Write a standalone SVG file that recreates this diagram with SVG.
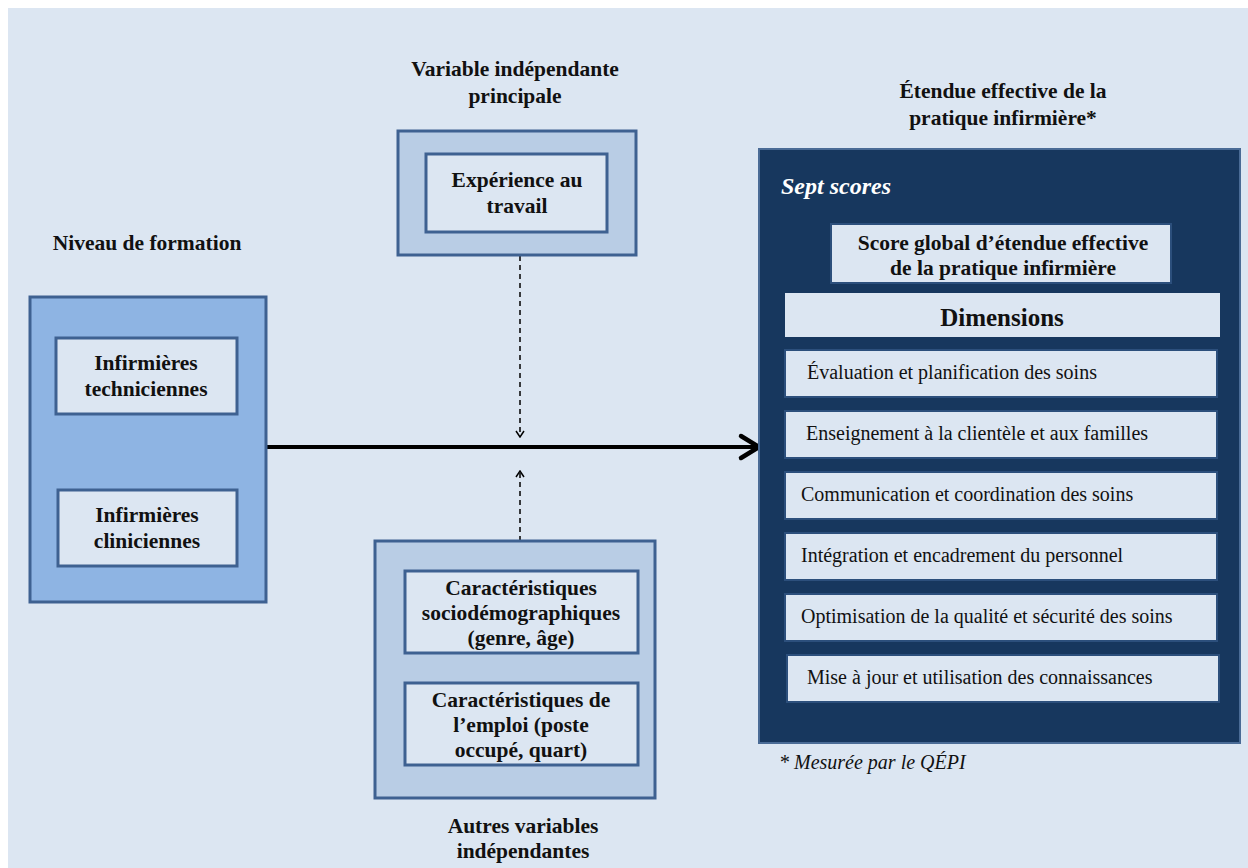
<svg xmlns="http://www.w3.org/2000/svg" width="1248" height="868" viewBox="0 0 1248 868">
<style>
.t{font-family:"Liberation Serif","Times New Roman",serif;fill:#111;}
.b{font-weight:bold;}
.h{font-size:21.5px;font-weight:bold;text-anchor:middle;}
.in{font-size:21.5px;font-weight:bold;text-anchor:middle;}
.row{font-size:20px;}
.outerL{fill:#8eb4e3;stroke:#3e6191;stroke-width:3;}
.outerM{fill:#b9cde5;stroke:#3e6191;stroke-width:3;}
.inner{fill:#dce6f2;stroke:#3e6191;stroke-width:3;}
.dimrow{fill:#dce6f2;stroke:#2c4f7c;stroke-width:2;}
</style>
<defs>
<marker id="big" viewBox="0 0 26 26" refX="23" refY="13" markerWidth="26" markerHeight="26" markerUnits="userSpaceOnUse" orient="auto">
<path d="M3 2 L22 13 L3 24" fill="none" stroke="#000" stroke-width="4.5" stroke-linecap="round" stroke-linejoin="miter"/>
</marker>
<marker id="small" viewBox="0 0 8 10" refX="7" refY="5" markerWidth="8" markerHeight="10" markerUnits="userSpaceOnUse" orient="auto">
<path d="M1 1 L7 5 L1 9" fill="none" stroke="#000" stroke-width="1.5"/>
</marker>
</defs>
<rect x="0" y="0" width="1248" height="868" fill="#ffffff"/>
<rect x="8" y="8" width="1240" height="860" fill="#dce6f2"/>

<g id="connectors">
<line x1="266" y1="447" x2="758" y2="447" stroke="#000" stroke-width="4"/>
<path d="M741 436 L759 447 L741 458" fill="none" stroke="#000" stroke-width="4.5" stroke-linecap="round"/>
<line x1="520" y1="256" x2="520" y2="437" stroke="#000" stroke-width="1.5" stroke-dasharray="5,4" marker-end="url(#small)"/>
<line x1="520" y1="541" x2="520" y2="471" stroke="#000" stroke-width="1.5" stroke-dasharray="5,4" marker-end="url(#small)"/>
</g>

<g id="niveau-formation">
<text class="t h" x="147" y="250">Niveau de formation</text>
<rect class="outerL" x="30" y="297" width="236" height="305"/>
</g>
<g id="inf-techniciennes">
<rect class="inner" x="56" y="338" width="181" height="76"/>
<text class="t in" x="146" y="370">Infirmières</text>
<text class="t in" x="146" y="396">techniciennes</text>
</g>
<g id="inf-cliniciennes">
<rect class="inner" x="58" y="490" width="179" height="76"/>
<text class="t in" x="147" y="522">Infirmières</text>
<text class="t in" x="147" y="548">cliniciennes</text>
</g>

<g id="variable-principale">
<text class="t h" x="515" y="76">Variable indépendante</text>
<text class="t h" x="515" y="103">principale</text>
<rect class="outerM" x="398" y="131" width="238" height="124"/>
</g>
<g id="experience">
<rect class="inner" x="426" y="154" width="181" height="78"/>
<text class="t in" x="517" y="187">Expérience au</text>
<text class="t in" x="517" y="213">travail</text>
</g>

<g id="autres-variables">
<rect class="outerM" x="375" y="541" width="280" height="257"/>
<text class="t h" x="523" y="833">Autres variables</text>
<text class="t h" x="523" y="858">indépendantes</text>
</g>
<g id="socio">
<rect class="inner" x="405" y="571" width="233" height="82"/>
<text class="t in" x="521" y="595">Caractéristiques</text>
<text class="t in" x="521" y="620">sociodémographiques</text>
<text class="t in" x="521" y="645">(genre, âge)</text>
</g>
<g id="emploi">
<rect class="inner" x="405" y="683" width="233" height="82"/>
<text class="t in" x="521" y="707">Caractéristiques de</text>
<text class="t in" x="521" y="732">l’emploi (poste</text>
<text class="t in" x="521" y="757">occupé, quart)</text>
</g>

<g id="etendue">
<text class="t h" x="1003" y="98">Étendue effective de la</text>
<text class="t h" x="1003" y="125">pratique infirmière*</text>
<rect x="759" y="149" width="481" height="594" fill="#17375e" stroke="#4a6b96" stroke-width="2"/>
<text x="781" y="194" font-family="Liberation Serif, serif" font-style="italic" font-weight="bold" font-size="24" fill="#ffffff">Sept scores</text>
<text class="t" x="779" y="769" font-size="20" font-style="italic">* Mesurée par le QÉPI</text>
</g>
<g id="score-global">
<rect x="831" y="224" width="340" height="59" fill="#dce6f2" stroke="#2c4f7c" stroke-width="2"/>
<text class="t in" x="1003" y="250" font-size="22.5">Score global d’étendue effective</text>
<text class="t in" x="1003" y="275" font-size="22.5">de la pratique infirmière</text>
</g>
<g id="dimensions">
<rect x="785" y="293" width="435" height="44" fill="#dce6f2"/>
<text class="t b" x="1002" y="326" font-size="25" text-anchor="middle">Dimensions</text>
</g>
<g id="dim1">
<rect class="dimrow" x="785" y="350" width="432" height="47"/>
<text class="t row" x="807" y="379">Évaluation et planification des soins</text>
</g>
<g id="dim2">
<rect class="dimrow" x="785" y="411" width="432" height="47"/>
<text class="t row" x="806" y="440">Enseignement à la clientèle et aux familles</text>
</g>
<g id="dim3">
<rect class="dimrow" x="785" y="472" width="432" height="47"/>
<text class="t row" x="801" y="501">Communication et coordination des soins</text>
</g>
<g id="dim4">
<rect class="dimrow" x="785" y="533" width="432" height="47"/>
<text class="t row" x="801" y="562">Intégration et encadrement du personnel</text>
</g>
<g id="dim5">
<rect class="dimrow" x="785" y="594" width="432" height="47"/>
<text class="t row" x="801" y="623">Optimisation de la qualité et sécurité des soins</text>
</g>
<g id="dim6">
<rect class="dimrow" x="787" y="655" width="432" height="47"/>
<text class="t row" x="807" y="684">Mise à jour et utilisation des connaissances</text>
</g>
</svg>
